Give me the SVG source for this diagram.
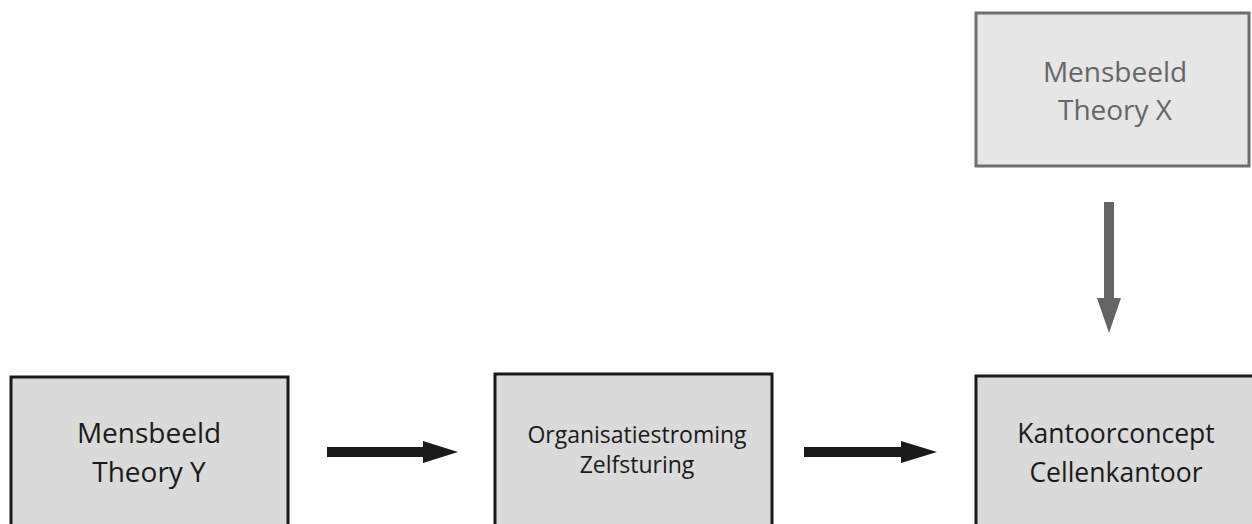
<svg xmlns="http://www.w3.org/2000/svg" width="1252" height="524" viewBox="0 0 1252 524">
  <style>
    .box { fill: #dadada; stroke: #1a1a1a; stroke-width: 3; }
    .box-muted { fill: #e6e6e6; stroke: #6e6e6e; stroke-width: 3; }
    .label { font-family: "Open Sans", "Liberation Sans", sans-serif; text-anchor: middle; fill: #1a1a1a; }
    .label-muted { fill: #666666; }
    .big { font-size: 28px; }
    .mid { font-size: 26.5px; }
    .small { font-size: 23px; }
    .arrow-dark { fill: #1a1a1a; }
    .arrow-muted { fill: #646464; }
  </style>
  <rect width="1252" height="524" fill="#ffffff"/>

  <g id="theory-x">
    <rect class="box-muted" x="976" y="13" width="273" height="153"/>
    <text class="label label-muted big" x="1115" y="82">Mensbeeld</text>
    <text class="label label-muted big" x="1115" y="120">Theory X</text>
  </g>

  <g id="theory-y">
    <rect class="box" x="11" y="377" width="277" height="160"/>
    <text class="label big" x="149" y="443">Mensbeeld</text>
    <text class="label big" x="149" y="482">Theory Y</text>
  </g>

  <g id="zelfsturing">
    <rect class="box" x="495" y="374" width="277" height="160"/>
    <text class="label small" x="637" y="443">Organisatiestroming</text>
    <text class="label small" x="637" y="473">Zelfsturing</text>
  </g>

  <g id="cellenkantoor">
    <rect class="box" x="976" y="376" width="290" height="160"/>
    <text class="label mid" x="1116" y="443">Kantoorconcept</text>
    <text class="label mid" x="1116" y="482">Cellenkantoor</text>
  </g>

  <g id="connectors">
    <!-- Theory X down to Cellenkantoor -->
    <polygon class="arrow-muted" points="1104,202 1114,202 1114,298 1121,298 1109,333 1097,298 1104,298"/>
    <!-- Theory Y to Zelfsturing -->
    <polygon class="arrow-dark" points="327,447 423,447 423,441 458,452 423,463 423,457 327,457"/>
    <!-- Zelfsturing to Cellenkantoor -->
    <polygon class="arrow-dark" points="804,447 901,447 901,441 937,452 901,463 901,457 804,457"/>
  </g>
</svg>
